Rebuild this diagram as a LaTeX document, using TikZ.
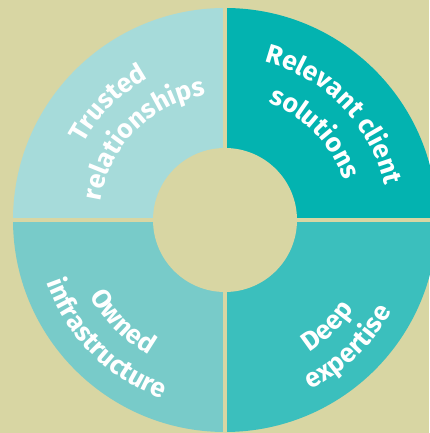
\documentclass[tikz,border=0pt]{standalone}
\usepackage{fontspec}
\newfontfamily\lblfont{Fira Sans}
\usetikzlibrary{decorations.text}
\definecolor{bg}{HTML}{D8D6A3}
\definecolor{qtl}{HTML}{A6DBDA}
\definecolor{qtr}{HTML}{03B3B0}
\definecolor{qbr}{HTML}{3BBFBD}
\definecolor{qbl}{HTML}{78CBC9}
\newcommand\lblfmt{\lblfont\bfseries\fontsize{26.5}{30}\selectfont\color{white}}
\tikzset{
  arctext/.style={decorate, decoration={text along path, text={|\lblfmt|#1}, text align=center}}
}
\begin{document}
\begin{tikzpicture}[x=1pt,y=1pt]
\useasboundingbox (0,0) rectangle (429,433);
\fill[bg] (0,0) rectangle (429,433);
\begin{scope}[shift={(225,213)}]
  \fill[qtl] (0,0) -- (90:212pt) arc[start angle=90, end angle=180, radius=212pt] -- cycle;
  \fill[qtr] (0,0) -- (0:212pt) arc[start angle=0, end angle=90, radius=212pt] -- cycle;
  \fill[qbr] (0,0) -- (270:212pt) arc[start angle=270, end angle=360, radius=212pt] -- cycle;
  \fill[qbl] (0,0) -- (180:212pt) arc[start angle=180, end angle=270, radius=212pt] -- cycle;
  \draw[bg, line width=4pt] (-215pt,0) -- (215pt,0);
  \draw[bg, line width=4pt] (0,-215pt) -- (0,215pt);
  \fill[bg] (0,0) circle[radius=72pt];
  % top-left
  \path[arctext={Trusted}] (180:161pt) arc[start angle=180, end angle=90, radius=161pt];
  \path[arctext={relationships}] (180:126pt) arc[start angle=180, end angle=90, radius=126pt];
  % top-right
  \path[arctext={Relevant client}] (89:163pt) arc[start angle=89, end angle=-1, radius=163pt];
  \path[arctext={solutions}] (89:125pt) arc[start angle=89, end angle=-1, radius=125pt];
  % bottom-left
  \path[arctext={Owned}] (180:155pt) arc[start angle=180, end angle=270, radius=155pt];
  \path[arctext={infrastructure}] (180:189pt) arc[start angle=180, end angle=270, radius=189pt];
  % bottom-right
  \path[arctext={Deep}] (269:157pt) arc[start angle=269, end angle=359, radius=157pt];
  \path[arctext={expertise}] (269:190pt) arc[start angle=269, end angle=359, radius=190pt];
\end{scope}
\end{tikzpicture}
\end{document}
